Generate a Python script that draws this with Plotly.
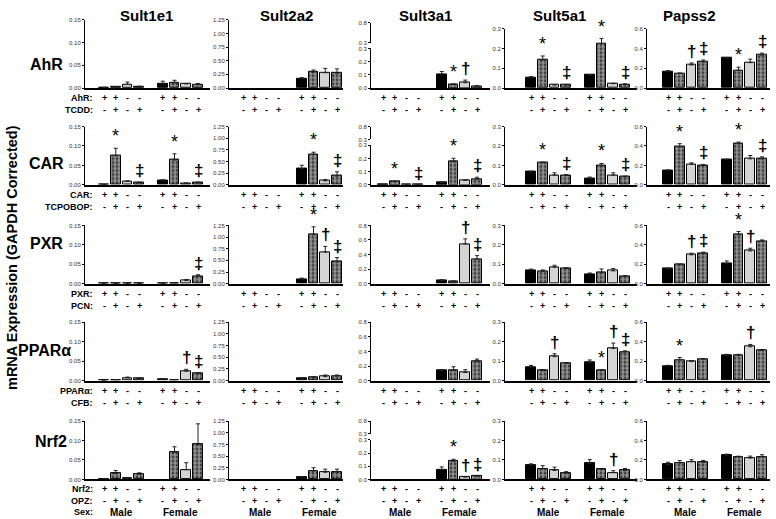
import plotly.graph_objects as go

# ---- data ---------------------------------------------------------------------------------

genes = ["Sult1e1", "Sult2a2", "Sult3a1", "Sult5a1", "Papss2"]
receptors = ["AhR", "CAR", "PXR", "PPARα", "Nrf2"]
ligands = ["TCDD", "TCPOBOP", "PCN", "CFB", "OPZ"]
receptor_signs = ["+", "+", "-", "-", "+", "+", "-", "-"]
ligand_signs = ["-", "+", "-", "+", "-", "+", "-", "+"]
sexes = ["Male", "Female"]
bar_x = [1, 2, 3, 4, 6, 7, 8, 9]

# rows: AhR, CAR, PXR, PPARa, Nrf2 ; 8 bars each (male 4, female 4)
sult1e1_mean = [
    [0.001, 0.002, 0.008, 0.003, 0.009, 0.011, 0.009, 0.008],
    [0.001, 0.075, 0.009, 0.006, 0.012, 0.064, 0.004, 0.006],
    [0.001, 0.0005, 0.0005, 0.0005, 0.001, 0.002, 0.008, 0.019],
    [0.0005, 0.002, 0.007, 0.005, 0.004, 0.002, 0.024, 0.018],
    [0.002, 0.015, 0.004, 0.013, None, 0.070, 0.025, 0.090],
]
sult1e1_sem = [
    [0.0005, 0.001, 0.005, 0.001, 0.006, 0.006, 0.001, 0.002],
    [0, 0.019, 0.001, 0.001, 0.001, 0.016, 0.001, 0.001],
    [0, 0, 0, 0, 0, 0.0005, 0.003, 0.004],
    [0, 0.0005, 0.002, 0.001, 0.001, 0.0005, 0.005, 0.002],
    [0.0005, 0.008, 0.001, 0.004, 0, 0.014, 0.018, 0.053],
]
sult1e1_sig = [
    ["", "", "", "", "", "", "", ""],
    ["", "*", "", "‡", "", "*", "", "‡"],
    ["", "", "", "", "", "", "", "‡"],
    ["", "", "", "", "", "", "†", "‡"],
    ["", "", "", "", "", "", "", ""],
]

sult2a2_mean = [
    [None, None, None, None, 0.17, 0.29, 0.28, 0.27],
    [None, None, None, None, 0.35, 0.65, 0.085, 0.19],
    [None, None, None, None, 0.10, 1.05, 0.68, 0.47],
    [None, None, None, None, 0.05, 0.063, 0.085, 0.10],
    [None, None, None, None, 0.05, 0.18, 0.155, 0.155],
]
sult2a2_sem = [
    [0, 0, 0, 0, 0.02, 0.04, 0.08, 0.08],
    [0, 0, 0, 0, 0.07, 0.05, 0.03, 0.09],
    [0, 0, 0, 0, 0.02, 0.17, 0.12, 0.09],
    [0, 0, 0, 0, 0.01, 0.02, 0.035, 0.02],
    [0, 0, 0, 0, 0.01, 0.07, 0.065, 0.065],
]
sult2a2_sig = [
    ["", "", "", "", "", "", "", ""],
    ["", "", "", "", "", "*", "", "‡"],
    ["", "", "", "", "", "*", "†", "‡"],
    ["", "", "", "", "", "", "", ""],
    ["", "", "", "", "", "", "", ""],
]

sult3a1_mean = [
    [None, None, None, None, 0.105, 0.028, 0.04, 0.015],
    [0.001, 0.024, 0.001, 0.002, 0.018, 0.176, 0.034, 0.045],
    [None, None, None, None, 0.045, 0.032, 0.545, 0.34],
    [None, None, None, None, 0.135, 0.14, 0.11, 0.265],
    [None, None, None, None, 0.075, 0.138, 0.018, 0.025],
]
sult3a1_sem = [
    [0, 0, 0, 0, 0.02, 0.003, 0.02, 0.003],
    [0, 0.002, 0, 0, 0.002, 0.026, 0.004, 0.013],
    [0, 0, 0, 0, 0.01, 0.005, 0.07, 0.045],
    [0, 0, 0, 0, 0.014, 0.05, 0.04, 0.03],
    [0, 0, 0, 0, 0.02, 0.015, 0.002, 0.003],
]
sult3a1_sig = [
    ["", "", "", "", "", "*", "†", ""],
    ["", "*", "", "‡", "", "*", "", "‡"],
    ["", "", "", "", "", "", "†", "‡"],
    ["", "", "", "", "", "", "", ""],
    ["", "", "", "", "", "*", "†", "‡"],
]

sult5a1_mean = [
    [0.053, 0.142, 0.015, 0.015, 0.065, 0.225, 0.022, 0.018],
    [0.066, 0.114, 0.05, 0.05, 0.034, 0.097, 0.05, 0.042],
    [0.07, 0.063, 0.085, 0.079, 0.05, 0.058, 0.066, 0.039],
    [0.071, 0.051, 0.123, 0.089, 0.093, 0.054, 0.165, 0.148],
    [0.075, 0.055, 0.046, 0.032, 0.083, 0.051, 0.035, 0.046],
]
sult5a1_sem = [
    [0.005, 0.02, 0.002, 0.003, 0.003, 0.025, 0.002, 0.003],
    [0.004, 0.003, 0.012, 0.003, 0.006, 0.013, 0.012, 0.003],
    [0.005, 0.008, 0.01, 0.003, 0.005, 0.018, 0.012, 0.003],
    [0.007, 0.005, 0.015, 0.003, 0.013, 0.003, 0.028, 0.005],
    [0.005, 0.016, 0.017, 0.008, 0.019, 0.003, 0.01, 0.01],
]
sult5a1_sig = [
    ["", "*", "", "‡", "", "*", "", "‡"],
    ["", "*", "", "‡", "", "*", "", "‡"],
    ["", "", "", "", "", "", "", ""],
    ["", "", "†", "", "", "*", "†", "‡"],
    ["", "", "", "", "", "", "†", ""],
]

papss2_mean = [
    [0.17, 0.147, 0.233, 0.263, 0.303, 0.18, 0.257, 0.333],
    [0.149, 0.39, 0.21, 0.2, 0.26, 0.423, 0.268, 0.268],
    [0.154, 0.198, 0.297, 0.308, 0.205, 0.503, 0.338, 0.44],
    [0.152, 0.213, 0.196, 0.22, 0.26, 0.26, 0.348, 0.31],
    [0.153, 0.17, 0.183, 0.176, 0.25, 0.234, 0.22, 0.234],
]
papss2_sem = [
    [0.005, 0.005, 0.02, 0.02, 0.005, 0.03, 0.035, 0.02],
    [0.005, 0.034, 0.017, 0.01, 0.005, 0.017, 0.034, 0.02],
    [0.005, 0.005, 0.017, 0.017, 0.03, 0.034, 0.027, 0.01],
    [0.005, 0.024, 0.005, 0.005, 0.01, 0.01, 0.024, 0.01],
    [0.024, 0.024, 0.02, 0.02, 0.01, 0.005, 0.02, 0.02],
]
papss2_sig = [
    ["", "", "†", "‡", "", "*", "", "‡"],
    ["", "*", "", "‡", "", "*", "", "‡"],
    ["", "", "†", "‡", "", "*", "†", ""],
    ["", "*", "", "", "", "", "†", ""],
    ["", "", "", "", "", "", "", ""],
]

col_ticks = [
    [0, 0.05, 0.10, 0.15],
    [0, 0.25, 0.5, 0.75, 1.0, 1.25],
    [0, 0.2, 0.4, 0.6, 0.8],
    [0, 0.1, 0.2, 0.3],
    [0, 0.2, 0.4, 0.6],
]
split_low_ticks = [0, 0.1, 0.2, 0.3]
split_high_ticks = [0.3, 0.8]

all_means = [sult1e1_mean, sult2a2_mean, sult3a1_mean, sult5a1_mean, papss2_mean]
all_sems = [sult1e1_sem, sult2a2_sem, sult3a1_sem, sult5a1_sem, papss2_sem]
all_sigs = [sult1e1_sig, sult2a2_sig, sult3a1_sig, sult5a1_sig, papss2_sig]

# ---- layout geometry (pixels) ---------------------------------------------------------------

W, H = 776, 519
FONT = "Arial, Liberation Sans, sans-serif"


def fx(p):
    return p / W


def fy(p):
    return 1 - p / H


col_left = [85, 229, 371, 505, 647]
col_right = [210, 343, 490, 637, 770]
col_bar1 = [104, 243, 383, 531, 668]
bar_step = 11.75
row_bottom = [86, 184, 284, 382, 482]
row1_top = [17, 17, 20, 26, 26]
panel_h = 59
split_rows = [0, 1, 4]   # Sult3a1 panels with a broken y axis
tick_formats = [".2f", ".2f", ".1f", ".1f", ".1f"]

# black / checkered / light grey / checkered
bar_fill = ["black", "#222", "#d4d4d4", "#222"] * 2
bar_shape = ["", ".", "", "."] * 2

fig = go.Figure()
layout = {}
annotations = []
tick_font = dict(family=FONT, size=6, color="#333")
sign_font = dict(family=FONT, size=9, color="black", weight="bold")


def y_axis(domain, rng, ticks, fmt, anchor):
    return dict(domain=domain, range=rng, anchor=anchor, tickvals=ticks, tickformat=fmt,
                showline=True, linecolor="black", linewidth=1, ticks="outside", ticklen=2,
                tickwidth=1, tickcolor="black", tickfont=tick_font, showgrid=False,
                zeroline=False, fixedrange=True)


extra = 25
for r in range(5):
    for c in range(5):
        k = r * 5 + c + 1
        xa, ya = f"x{k}", f"y{k}"
        bottom = row_bottom[r]
        top = row1_top[c] if r == 0 else bottom - panel_h
        means = all_means[c][r]
        sems = all_sems[c][r]

        fig.add_trace(go.Bar(
            x=bar_x, y=means, xaxis=xa, yaxis=ya, width=0.85,
            marker=dict(color=bar_fill, line=dict(color="black", width=1),
                        pattern=dict(shape=bar_shape, fgcolor="white", size=4,
                                     solidity=0.7, fillmode="overlay")),
            error_y=dict(type="data", array=sems, arrayminus=[0] * 8, symmetric=False,
                         color="#222", thickness=1, width=2),
            showlegend=False, hoverinfo="skip"))

        lo = 1 + (col_left[c] - col_bar1[c]) / bar_step
        hi = 1 + (col_right[c] - col_bar1[c]) / bar_step
        layout[f"xaxis{k}"] = dict(domain=[fx(col_left[c]), fx(col_right[c])], range=[lo, hi],
                                   anchor=ya, showline=True, linecolor="black", linewidth=1.6,
                                   showticklabels=False, ticks="", showgrid=False,
                                   zeroline=False, fixedrange=True)

        if c == 2 and r in split_rows:
            low_top = bottom - 40
            layout[f"yaxis{k}"] = y_axis([fy(bottom), fy(low_top)], [0, 0.3],
                                         split_low_ticks, ".1f", xa)
            extra += 1
            layout[f"yaxis{extra}"] = y_axis([fy(low_top - 6), fy(top)], [0.3, 0.8],
                                             split_high_ticks, ".1f", xa)
            fig.add_trace(go.Scatter(x=[None], y=[None], xaxis=xa, yaxis=f"y{extra}",
                                     showlegend=False, hoverinfo="skip"))
        else:
            ticks = col_ticks[c]
            layout[f"yaxis{k}"] = y_axis([fy(bottom), fy(top)], [0, ticks[-1]],
                                         ticks, tick_formats[c], xa)

        # +/- rows under every bar
        for i, xv in enumerate(bar_x):
            annotations.append(dict(x=xv, y=0, xref=xa, yref=ya, yshift=-10,
                                    text=receptor_signs[i], showarrow=False, font=sign_font))
            annotations.append(dict(x=xv, y=0, xref=xa, yref=ya, yshift=-22,
                                    text=ligand_signs[i], showarrow=False, font=sign_font))
        if r == 4:
            for j, sx in enumerate(sexes):
                annotations.append(dict(x=[2.5, 7.5][j], y=0, xref=xa, yref=ya, yshift=-33,
                                        text=sx, showarrow=False,
                                        font=dict(family=FONT, size=10, color="black",
                                                  weight="bold")))

        # significance marks
        for i, s in enumerate(all_sigs[c][r]):
            if s:
                top_val = (means[i] or 0) + (sems[i] or 0)
                annotations.append(dict(x=bar_x[i], y=top_val, xref=xa, yref=ya, text=s,
                                        showarrow=False, yanchor="bottom",
                                        font=dict(family=FONT, size=18 if s == "*" else 17,
                                                  color="black",
                                                  weight="normal" if s == "*" else "bold")))

    # row prefixes in the first column
    prefixes = [receptors[r] + ":", ligands[r] + ":"] + (["Sex:"] if r == 4 else [])
    for j, p in enumerate(prefixes):
        annotations.append(dict(x=fx(95), y=0, xref="paper", yref=f"y{r * 5 + 1}",
                                yshift=[-10, -22, -33][j], xanchor="right", text=p,
                                showarrow=False, font=sign_font))

# row labels
row_label_y = [62, 162, 243, 352, 444]
row_label_x = [46, 46, 46, 44, 51]
for r in range(5):
    annotations.append(dict(x=fx(row_label_x[r]), y=fy(row_label_y[r]), xref="paper",
                            yref="paper", xanchor="center", yanchor="middle",
                            text=receptors[r], showarrow=False,
                            font=dict(family=FONT, size=16, color="black", weight="bold")))

# column titles
title_x = [146, 286, 425, 559, 689]
for c in range(5):
    annotations.append(dict(x=fx(title_x[c]), y=fy(13), xref="paper", yref="paper",
                            xanchor="center", yanchor="middle", text=genes[c],
                            showarrow=False,
                            font=dict(family=FONT, size=15, color="black", weight="bold")))

annotations.append(dict(x=fx(12), y=fy(258), xref="paper", yref="paper",
                        xanchor="center", yanchor="middle",
                        text="mRNA Expression (GAPDH Corrected)", textangle=-90,
                        showarrow=False,
                        font=dict(family=FONT, size=14.5, color="black", weight="bold")))

fig.update_layout(**layout)
fig.update_layout(width=W, height=H, margin=dict(l=0, r=0, t=0, b=0),
                  plot_bgcolor="white", paper_bgcolor="white",
                  annotations=annotations, bargap=0, showlegend=False)

fig.write_html("out.html", config={"displayModeBar": False},
               post_script="document.body.style.margin='0';")
